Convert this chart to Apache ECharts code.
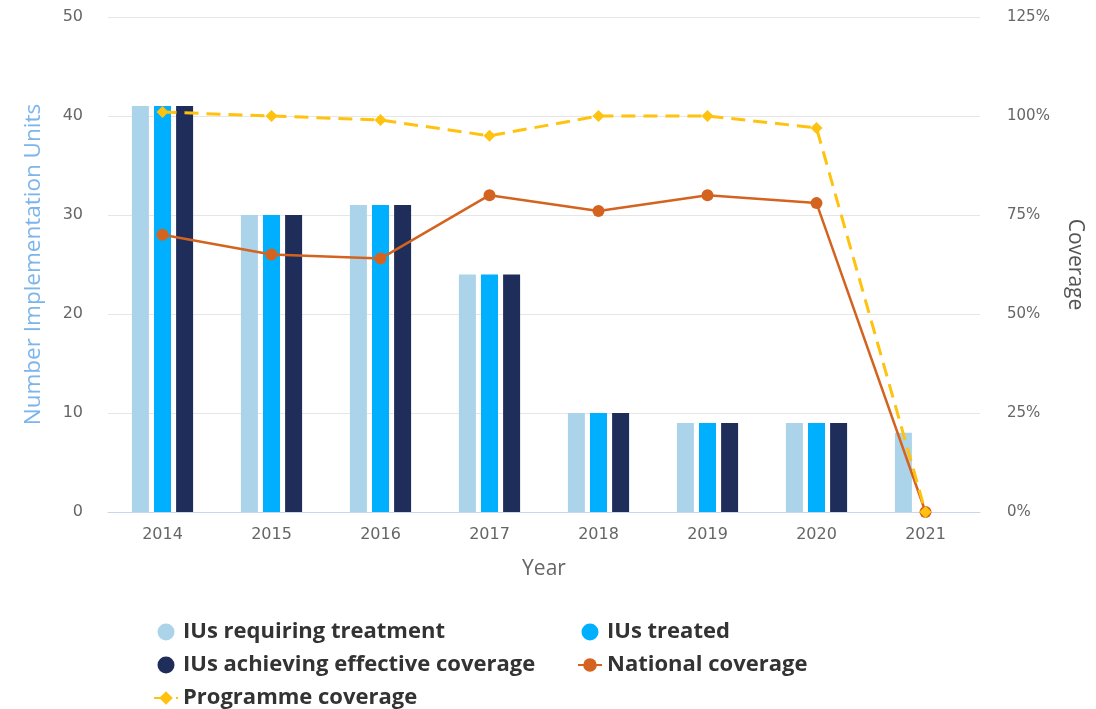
<!DOCTYPE html>
<html>
<head>
<meta charset="utf-8">
<script src="https://cdn.jsdelivr.net/npm/echarts@6/dist/echarts.min.js"></script>
<style>
html,body{margin:0;padding:0;background:#fff;}
#chart{width:1096px;height:709px;}
</style>
</head>
<body>
<div id="chart"></div>
<script>
var years = ['2014','2015','2016','2017','2018','2019','2020','2021'];
var iusRequiring = [41, 30, 31, 24, 10, 9, 9, 8];
var iusTreated = [41, 30, 31, 24, 10, 9, 9, null];
var iusEffective = [41, 30, 31, 24, 10, 9, 9, null];
var nationalCoverage = [70, 65, 64, 80, 76, 80, 78, 0];
var programmeCoverage = [101, 100, 99, 95, 100, 100, 97, 0];

var FONT = 'Open Sans';
var TICKFONT = 'DejaVu Sans';
var chart = echarts.init(document.getElementById('chart'), null, {renderer: 'canvas'});
var legendText = {fontSize: 22, lineHeight: 22, fontWeight: 'bold', color: '#333333', fontFamily: FONT};
chart.setOption({
  animation: false,
  backgroundColor: '#ffffff',
  textStyle: {fontFamily: FONT},
  grid: {left: 108, right: 116, top: 17, bottom: 197},
  legend: [
    {
      left: 153, top: 621, orient: 'vertical', itemGap: 11,
      itemWidth: 24, itemHeight: 17, padding: 0,
      textStyle: legendText,
      data: [
        {name: 'IUs requiring treatment', icon: 'circle'},
        {name: 'IUs achieving effective coverage', icon: 'circle'},
        {name: 'Programme coverage'}
      ]
    },
    {
      left: 577, top: 621, orient: 'vertical', itemGap: 11,
      itemWidth: 24, itemHeight: 17, padding: 0,
      textStyle: legendText,
      data: [
        {name: 'IUs treated', icon: 'circle'},
        {name: 'National coverage'}
      ]
    }
  ],
  xAxis: {
    type: 'category',
    data: years,
    name: 'Year',
    nameLocation: 'middle',
    nameGap: 47,
    nameTextStyle: {fontSize: 21, color: '#666666'},
    axisLine: {lineStyle: {color: '#ccd6eb'}},
    axisTick: {show: false},
    axisLabel: {fontSize: 16, color: '#666666', margin: 15, fontFamily: TICKFONT}
  },
  yAxis: [
    {
      type: 'value', min: 0, max: 50, interval: 10,
      name: 'Number Implementation Units',
      nameLocation: 'middle', nameGap: 63, nameRotate: 90,
      nameTextStyle: {fontSize: 22.5, color: '#7cb5ec'},
      axisLine: {show: false}, axisTick: {show: false},
      axisLabel: {fontSize: 16, color: '#666666', margin: 25, fontFamily: TICKFONT},
      splitLine: {lineStyle: {color: '#e6e6e6'}}
    },
    {
      type: 'value', min: 0, max: 125, interval: 25,
      name: 'Coverage',
      nameLocation: 'middle', nameGap: 84, nameRotate: -90,
      nameTextStyle: {fontSize: 21, color: '#555555'},
      axisLine: {show: false}, axisTick: {show: false},
      axisLabel: {fontSize: 15, color: '#666666', margin: 27, formatter: '{value}%', fontFamily: TICKFONT},
      splitLine: {show: false}
    }
  ],
  series: [
    {
      name: 'IUs requiring treatment', type: 'bar', data: iusRequiring,
      barWidth: 17, barGap: '30%',
      itemStyle: {color: '#abd4ea'}
    },
    {
      name: 'IUs treated', type: 'bar', data: iusTreated,
      barWidth: 17, barGap: '30%',
      itemStyle: {color: '#00b0ff'}
    },
    {
      name: 'IUs achieving effective coverage', type: 'bar', data: iusEffective,
      barWidth: 17, barGap: '30%',
      itemStyle: {color: '#1f2d5a'}
    },
    {
      name: 'National coverage', type: 'line', yAxisIndex: 1, data: nationalCoverage,
      symbol: 'circle', symbolSize: 12,
      lineStyle: {color: '#d4631f', width: 2.5},
      itemStyle: {color: '#d4631f'},
      z: 3
    },
    {
      name: 'Programme coverage', type: 'line', yAxisIndex: 1, data: programmeCoverage,
      symbol: 'diamond', symbolSize: 12,
      lineStyle: {color: '#ffc20e', width: 3, type: [14, 8]},
      itemStyle: {color: '#ffc20e'},
      z: 4
    }
  ]
});
</script>
</body>
</html>
